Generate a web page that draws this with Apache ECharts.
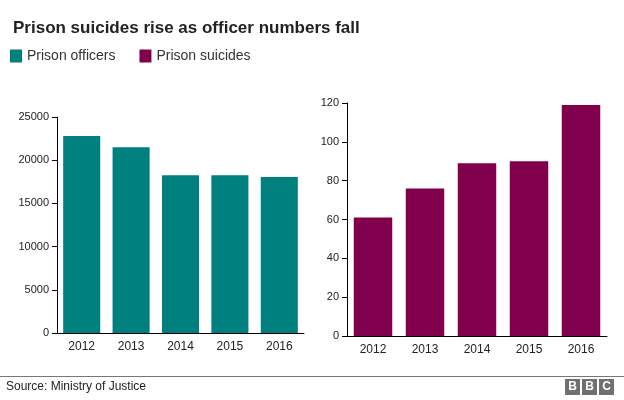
<!DOCTYPE html>
<html><head><meta charset="utf-8">
<script src="https://cdn.jsdelivr.net/npm/echarts@6/dist/echarts.min.js"></script>
<style>html,body{margin:0;padding:0;background:#fff}#c{width:624px;height:400px}</style>
</head><body><div id="c"></div>
<script>
const years = ['2012','2013','2014','2015','2016'];
const officers = [22800, 21500, 18250, 18250, 18050];
const suicides = [61, 76, 89, 90, 119];
const FONT = '"Liberation Sans", Arial, sans-serif';
const chart = echarts.init(document.getElementById('c'), null, {renderer:'canvas'});
const axisCommon = {
  axisLine:{show:true, lineStyle:{color:'#000', width:1}},
  axisTick:{show:true, length:5, lineStyle:{color:'#000'}},
  splitLine:{show:false},
  axisLabel:{color:'#222', fontSize:11, fontFamily:FONT, margin:8, formatter:(v)=>String(v)}
};
chart.setOption({
  animation:false,
  title:{text:'Prison suicides rise as officer numbers fall', left:8, top:15,
    textStyle:{fontFamily:FONT, fontWeight:'bold', fontSize:17, color:'#222'}},
  legend:{left:10, top:49, padding:0, itemWidth:12, itemHeight:13, itemGap:24, icon:'rect',
    textStyle:{fontFamily:FONT, fontSize:14, color:'#333', padding:[2,0,0,0]},
    data:['Prison officers','Prison suicides']},
  grid:[
    {left:57, top:117, width:247, bottom:67},
    {left:347, top:103, width:260, bottom:64}
  ],
  xAxis:[
    Object.assign({}, axisCommon, {type:'category', gridIndex:0, data:years, axisTick:{show:false},
      axisLabel:{color:'#222', fontSize:12, fontFamily:FONT, margin:8}}),
    Object.assign({}, axisCommon, {type:'category', gridIndex:1, data:years, axisTick:{show:false},
      axisLabel:{color:'#222', fontSize:12, fontFamily:FONT, margin:8}})
  ],
  yAxis:[
    Object.assign({}, axisCommon, {type:'value', gridIndex:0, min:0, max:25000, interval:5000}),
    Object.assign({}, axisCommon, {type:'value', gridIndex:1, min:0, max:120, interval:20})
  ],
  series:[
    {name:'Prison officers', type:'bar', xAxisIndex:0, yAxisIndex:0, data:officers,
      barCategoryGap:'25%', itemStyle:{color:'#007f7f'}},
    {name:'Prison suicides', type:'bar', xAxisIndex:1, yAxisIndex:1, data:suicides,
      barCategoryGap:'26%', itemStyle:{color:'#80004b'}}
  ],
  graphic:[
    {type:'line', shape:{x1:0, y1:376.5, x2:624, y2:376.5}, style:{stroke:'#777', lineWidth:1}},
    {type:'text', left:6, top:381, style:{text:'Source: Ministry of Justice', font:'12px '+FONT, fill:'#222'}},
    {type:'rect', shape:{x:565, y:379, width:15, height:16}, style:{fill:'#707070'}},
    {type:'rect', shape:{x:582, y:379, width:15, height:16}, style:{fill:'#707070'}},
    {type:'rect', shape:{x:599, y:379, width:15, height:16}, style:{fill:'#707070'}},
    {type:'text', x:572.5, y:387, style:{text:'B', font:'bold 12px '+FONT, fill:'#fff', align:'center', verticalAlign:'middle'}},
    {type:'text', x:589.5, y:387, style:{text:'B', font:'bold 12px '+FONT, fill:'#fff', align:'center', verticalAlign:'middle'}},
    {type:'text', x:606.5, y:387, style:{text:'C', font:'bold 12px '+FONT, fill:'#fff', align:'center', verticalAlign:'middle'}}
  ]
});
</script></body></html>
